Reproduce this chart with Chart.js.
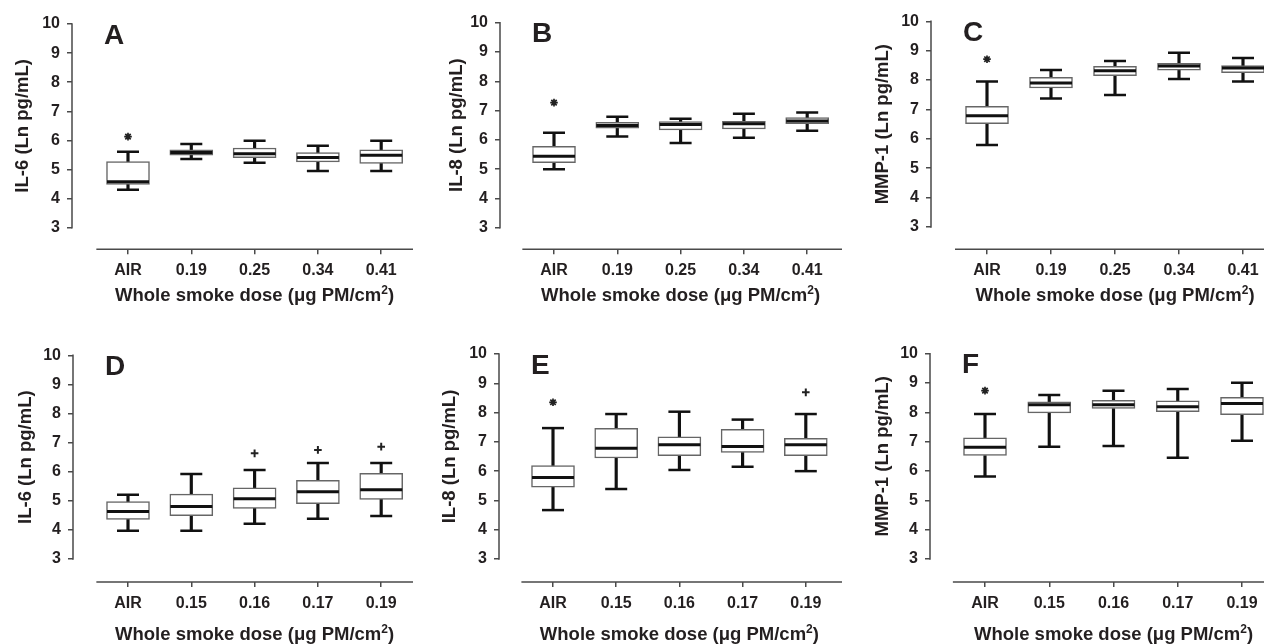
<!DOCTYPE html>
<html>
<head>
<meta charset="utf-8">
<script src="https://cdn.jsdelivr.net/npm/chart.js@4.4.1/dist/chart.umd.min.js"></script>
<style>
  html, body { margin: 0; padding: 0; background: #fff; overflow: hidden; }
  #wrap { position: relative; width: 1264px; height: 644px; }
  .panel { position: absolute; }
</style>
</head>
<body>
<div id="wrap"></div>
<script>
const DOSES_TOP = ['AIR', '0.19', '0.25', '0.34', '0.41'];
const DOSES_BOTTOM = ['AIR', '0.15', '0.16', '0.17', '0.19'];
const Y_TICKS = [3, 4, 5, 6, 7, 8, 9, 10];
const X_TITLE = 'Whole smoke dose (\u03bcg PM/cm';

// each row: [low whisker, q1, median, q3, high whisker]
const IL6_TOP = [[4.30, 4.49, 4.58, 5.27, 5.61], [5.36, 5.49, 5.58, 5.68, 5.88], [5.23, 5.41, 5.54, 5.74, 5.99], [4.95, 5.26, 5.41, 5.58, 5.82], [4.95, 5.21, 5.49, 5.68, 5.99]];
const IL8_TOP = [[5.00, 5.22, 5.44, 5.78, 6.24], [6.11, 6.40, 6.49, 6.60, 6.79], [5.89, 6.34, 6.52, 6.62, 6.72], [6.07, 6.37, 6.55, 6.63, 6.89], [6.31, 6.55, 6.64, 6.76, 6.93]];
const MMP1_TOP = [[5.79, 6.52, 6.79, 7.11, 7.95], [7.37, 7.73, 7.90, 8.09, 8.34], [7.49, 8.15, 8.32, 8.47, 8.65], [8.04, 8.34, 8.48, 8.57, 8.93], [7.95, 8.25, 8.41, 8.49, 8.75]];
const IL6_BOTTOM = [[3.97, 4.36, 4.63, 4.97, 5.21], [3.97, 4.49, 4.80, 5.23, 5.92], [4.21, 4.74, 5.07, 5.45, 6.06], [4.38, 4.90, 5.31, 5.70, 6.30], [4.48, 5.05, 5.38, 5.94, 6.30]];
const IL8_BOTTOM = [[4.67, 5.45, 5.78, 6.19, 7.47], [5.39, 6.45, 6.78, 7.46, 7.95], [6.04, 6.53, 6.90, 7.17, 8.03], [6.15, 6.64, 6.84, 7.43, 7.76], [6.00, 6.53, 6.90, 7.12, 7.95]];
const MMP1_BOTTOM = [[5.81, 6.53, 6.81, 7.13, 7.94], [6.83, 7.98, 8.26, 8.36, 8.59], [6.85, 8.13, 8.26, 8.41, 8.74], [6.45, 8.02, 8.19, 8.39, 8.80], [7.03, 7.92, 8.30, 8.51, 9.01]];

// significance marks (* and +)
const IL6_TOP_STAR = [6.13, null, null, null, null];
const IL8_TOP_STAR = [7.27, null, null, null, null];
const MMP1_TOP_STAR = [8.71, null, null, null, null];
const IL6_BOTTOM_PLUS = [null, null, 6.63, 6.75, 6.86];
const IL8_BOTTOM_STAR = [8.35, null, null, null, null];
const IL8_BOTTOM_PLUS = [null, null, null, null, 8.69];
const MMP1_BOTTOM_STAR = [8.74, null, null, null, null];

const FONT = '"Liberation Sans", Arial, sans-serif';
const INK = '#231f20';
const AXIS = '#4a4a4a';

const panels = [
  { letter: 'A', yTitle: 'IL-6 (Ln pg/mL)', labels: DOSES_TOP, stats: IL6_TOP, star: IL6_TOP_STAR, plus: null,
    box: [0, 0, 421, 322], x0: 72, cat0: 128, step: 63.3, xEnd: 413, yTop: 24, y3: 227.7, xAxisY: 249.3, titleGap: 52, yTitleOff: 49 },
  { letter: 'B', yTitle: 'IL-8 (Ln pg/mL)', labels: DOSES_TOP, stats: IL8_TOP, star: IL8_TOP_STAR, plus: null,
    box: [421, 0, 421, 322], x0: 500, cat0: 554, step: 63.3, xEnd: 842, yTop: 22.7, y3: 227.7, xAxisY: 249.3, titleGap: 52, yTitleOff: 43 },
  { letter: 'C', yTitle: 'MMP-1 (Ln pg/mL)', labels: DOSES_TOP, stats: MMP1_TOP, star: MMP1_TOP_STAR, plus: null,
    box: [842, 0, 422, 322], x0: 931, cat0: 987, step: 64, xEnd: 1264, yTop: 21.3, y3: 227, xAxisY: 249.3, titleGap: 52, yTitleOff: 48 },
  { letter: 'D', yTitle: 'IL-6 (Ln pg/mL)', labels: DOSES_BOTTOM, stats: IL6_BOTTOM, star: null, plus: IL6_BOTTOM_PLUS,
    box: [0, 322, 421, 322], x0: 73, cat0: 128, step: 63.3, xEnd: 413, yTop: 355.3, y3: 559, xAxisY: 582, titleGap: 58, yTitleOff: 47 },
  { letter: 'E', yTitle: 'IL-8 (Ln pg/mL)', labels: DOSES_BOTTOM, stats: IL8_BOTTOM, star: IL8_BOTTOM_STAR, plus: IL8_BOTTOM_PLUS,
    box: [421, 322, 421, 322], x0: 499, cat0: 553, step: 63.2, xEnd: 842, yTop: 354, y3: 559, xAxisY: 582, titleGap: 58, yTitleOff: 49 },
  { letter: 'F', yTitle: 'MMP-1 (Ln pg/mL)', labels: DOSES_BOTTOM, stats: MMP1_BOTTOM, star: MMP1_BOTTOM_STAR, plus: null,
    box: [842, 322, 422, 322], x0: 930, cat0: 985, step: 64.25, xEnd: 1264, yTop: 353.7, y3: 559, xAxisY: 582, titleGap: 58, yTitleOff: 47 }
];

// axis lines, titles and panel letter
const frame = {
  id: 'frame',
  afterDraw(chart, args, opts) {
    const { ctx, chartArea } = chart;
    const x = chart.scales.x, y = chart.scales.y;
    ctx.save();
    ctx.strokeStyle = AXIS;
    ctx.lineWidth = 1.5;
    ctx.beginPath();
    ctx.moveTo(chartArea.left, y.getPixelForValue(Y_TICKS[Y_TICKS.length - 1]) - 0.75);
    ctx.lineTo(chartArea.left, y.getPixelForValue(Y_TICKS[0]) + 0.75);
    ctx.moveTo(x.getPixelForValue(-0.5), chartArea.bottom);
    ctx.lineTo(chartArea.right, chartArea.bottom);
    ctx.stroke();

    ctx.fillStyle = INK;
    // x title with superscript
    const cxp = x.getPixelForValue(2);
    const by = chartArea.bottom + opts.titleGap;
    const big = 'bold 18.5px ' + FONT, small = 'bold 12px ' + FONT;
    ctx.font = big;
    const w1 = ctx.measureText(X_TITLE).width;
    const w3 = ctx.measureText(')').width;
    ctx.font = small;
    const w2 = ctx.measureText('2').width;
    const sx = cxp - (w1 + w2 + w3) / 2;
    ctx.textAlign = 'left';
    ctx.textBaseline = 'alphabetic';
    ctx.font = big;
    ctx.fillText(X_TITLE, sx, by);
    ctx.font = small;
    ctx.fillText('2', sx + w1, by - 7.5);
    ctx.font = big;
    ctx.fillText(')', sx + w1 + w2, by);

    // y title
    ctx.save();
    ctx.translate(chartArea.left - opts.yTitleOff, y.getPixelForValue(6.5));
    ctx.rotate(-Math.PI / 2);
    ctx.textAlign = 'center';
    ctx.textBaseline = 'middle';
    ctx.font = big;
    ctx.fillText(opts.yTitle, 0, 0);
    ctx.restore();

    // panel letter
    ctx.font = 'bold 28px ' + FONT;
    ctx.textAlign = 'left';
    ctx.textBaseline = 'alphabetic';
    ctx.fillText(opts.letter, chartArea.left + 32, chartArea.top + 19.5);
    ctx.restore();
  }
};

const wrap = document.getElementById('wrap');

panels.forEach(p => {
  const [cx, cy, cw, ch] = p.box;
  const div = document.createElement('div');
  div.className = 'panel';
  div.style.left = cx + 'px';
  div.style.top = cy + 'px';
  div.style.width = cw + 'px';
  div.style.height = ch + 'px';
  const canvas = document.createElement('canvas');
  canvas.width = cw;
  canvas.height = ch;
  div.appendChild(canvas);
  wrap.appendChild(div);

  const Y_W = 60, X_H = 40;
  const unit = (p.y3 - p.yTop) / 7;
  const yMin = 3 - (p.xAxisY - p.y3) / unit;
  const xMin = (p.x0 - p.cat0) / p.step;
  const xMax = (p.xEnd - p.cat0) / p.step;
  const s = p.stats;
  const idx = p.labels.map((_, i) => i);

  const datasets = [
    {
      type: 'line', label: 'median', showLine: false,
      data: idx.map(i => ({ x: i, y: s[i][2] })),
      pointStyle: 'line', pointRadius: 21, pointBorderWidth: 3, pointBorderColor: '#111'
    },
    {
      type: 'line', label: 'caps', showLine: false,
      data: idx.flatMap(i => [{ x: i, y: s[i][0] }, { x: i, y: s[i][4] }]),
      pointStyle: 'line', pointRadius: 11, pointBorderWidth: 2.5, pointBorderColor: '#111'
    },
    {
      type: 'bar', label: 'box', grouped: false,
      data: idx.map(i => ({ x: i, y: [s[i][1], s[i][3]] })),
      barThickness: 43, backgroundColor: '#fff', borderColor: '#666', borderWidth: 1.5, borderSkipped: false
    },
    {
      type: 'bar', label: 'lower whisker', grouped: false,
      data: idx.map(i => ({ x: i, y: [s[i][0], s[i][1]] })),
      barThickness: 2.5, backgroundColor: '#111', borderWidth: 0
    },
    {
      type: 'bar', label: 'upper whisker', grouped: false,
      data: idx.map(i => ({ x: i, y: [s[i][3], s[i][4]] })),
      barThickness: 2.5, backgroundColor: '#111', borderWidth: 0
    }
  ];
  if (p.star) {
    datasets.unshift({
      type: 'line', label: 'star', showLine: false,
      data: idx.map(i => ({ x: i, y: p.star[i] })),
      pointStyle: 'star', pointRadius: 3.8, pointBorderWidth: 1.7, pointBorderColor: '#222'
    });
  }
  if (p.plus) {
    datasets.unshift({
      type: 'line', label: 'plus', showLine: false,
      data: idx.map(i => ({ x: i, y: p.plus[i] })),
      pointStyle: 'cross', pointRadius: 3.8, pointBorderWidth: 2, pointBorderColor: '#222'
    });
  }

  new Chart(canvas, {
    type: 'bar',
    data: { datasets: datasets },
    options: {
      responsive: false,
      animation: false,
      events: [],
      layout: {
        autoPadding: false,
        padding: {
          left: p.x0 - cx - Y_W,
          top: p.yTop - cy,
          right: cx + cw - p.xEnd,
          bottom: cy + ch - p.xAxisY - X_H
        }
      },
      plugins: {
        legend: { display: false },
        tooltip: { enabled: false },
        frame: { letter: p.letter, yTitle: p.yTitle, titleGap: p.titleGap, yTitleOff: p.yTitleOff }
      },
      scales: {
        x: {
          type: 'linear',
          offset: false,
          min: xMin,
          max: xMax,
          afterBuildTicks: sc => { sc.ticks = idx.map(i => ({ value: i })); },
          afterFit: sc => { sc.height = X_H; sc.paddingLeft = 0; sc.paddingRight = 0; },
          border: { display: false },
          grid: { offset: false, drawOnChartArea: false, drawTicks: true, tickLength: 5, color: AXIS, lineWidth: 1.5 },
          ticks: {
            autoSkip: false, maxRotation: 0, padding: 7, color: INK,
            font: { family: FONT, size: 16, weight: 'bold' },
            callback: (v, i) => p.labels[i]
          }
        },
        y: {
          type: 'linear',
          min: yMin,
          max: 10,
          afterBuildTicks: sc => { sc.ticks = Y_TICKS.map(v => ({ value: v })); },
          afterFit: sc => { sc.width = Y_W; sc.paddingTop = 0; sc.paddingBottom = 0; },
          border: { display: false },
          grid: { drawOnChartArea: false, drawTicks: true, tickLength: 5, color: AXIS, lineWidth: 1.5 },
          ticks: {
            padding: 7, color: INK,
            font: { family: FONT, size: 16, weight: 'bold' }
          }
        }
      }
    },
    plugins: [frame]
  });
});
</script>
</body>
</html>
